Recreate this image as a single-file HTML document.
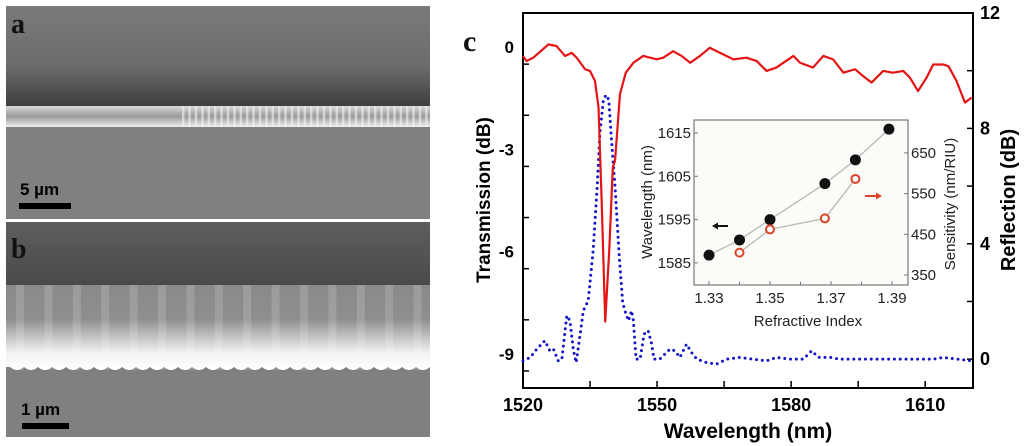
<!DOCTYPE html>
<html><head><meta charset="utf-8"><style>
html,body{margin:0;padding:0;background:#fff;}
body{width:1024px;height:446px;overflow:hidden;position:relative;font-family:"Liberation Sans",sans-serif;}
svg{position:absolute;left:0;top:0;}
</style></head><body>
<svg id="fig" width="1024" height="446" viewBox="0 0 1024 446">
<defs>
<linearGradient id="gaTop" x1="0" y1="0" x2="0" y2="1">
<stop offset="0" stop-color="#7a7a7a"/><stop offset="0.6" stop-color="#6c6c6c"/><stop offset="1" stop-color="#3e3e3e"/></linearGradient>
<linearGradient id="gaWg" x1="0" y1="0" x2="0" y2="1">
<stop offset="0" stop-color="#d8d8d8"/><stop offset="0.5" stop-color="#9a9a9a"/><stop offset="1" stop-color="#f0f0f0"/></linearGradient>
<linearGradient id="gbTop" x1="0" y1="0" x2="0" y2="1">
<stop offset="0" stop-color="#5e5e5e"/><stop offset="1" stop-color="#4a4a4a"/></linearGradient>
<linearGradient id="gbWg" x1="0" y1="0" x2="0" y2="1">
<stop offset="0" stop-color="#8a8a8a"/><stop offset="0.4" stop-color="#8e8e8e"/><stop offset="0.8" stop-color="#f2f2f2"/><stop offset="1" stop-color="#ffffff"/></linearGradient>
<pattern id="pa" x="182" y="0" width="6.4" height="10" patternUnits="userSpaceOnUse">
<rect x="0" y="0" width="2.4" height="10" fill="#f4f4f4"/></pattern>
<pattern id="pb" x="6" y="0" width="28.4" height="10" patternUnits="userSpaceOnUse">
<rect x="10" y="0" width="8" height="10" fill="#ffffff" opacity="0.15"/></pattern>
</defs>

<g>
<rect x="6" y="6" width="424" height="213" fill="#808080"/>
<rect x="6" y="6" width="424" height="100" fill="url(#gaTop)"/>
<rect x="6" y="106" width="424" height="21" fill="url(#gaWg)"/>
<rect x="182" y="106" width="248" height="21" fill="url(#pa)" opacity="0.6"/>
<text x="11" y="33" font-family="Liberation Serif,serif" font-weight="bold" font-size="28" fill="#111">a</text>
<text x="20" y="195" font-weight="bold" font-size="17" fill="#000">5 µm</text>
<rect x="19" y="203" width="52" height="6" fill="#000"/>
</g>
<g>
<rect x="6" y="222" width="424" height="215" fill="#808080"/>
<rect x="6" y="222" width="424" height="63" fill="url(#gbTop)"/>
<path d="M6 285 H430 V367 Q423 373 416 367 Q409 373 402 367 Q395 373 388 367 Q381 373 374 367 Q367 373 360 367 Q353 373 346 367 Q339 373 332 367 Q325 373 318 367 Q311 373 304 367 Q297 373 290 367 Q283 373 276 367 Q269 373 262 367 Q255 373 248 367 Q241 373 234 367 Q227 373 220 367 Q213 373 206 367 Q199 373 192 367 Q185 373 178 367 Q171 373 164 367 Q157 373 150 367 Q143 373 136 367 Q129 373 122 367 Q115 373 108 367 Q101 373 94 367 Q87 373 80 367 Q73 373 66 367 Q59 373 52 367 Q45 373 38 367 Q31 373 24 367 Q17 373 10 367 L6 367 Z" fill="url(#gbWg)"/>
<rect x="6" y="285" width="424" height="85" fill="url(#pb)"/>
<text x="11" y="258" font-family="Liberation Serif,serif" font-weight="bold" font-size="28" fill="#111">b</text>
<text x="21" y="415" font-weight="bold" font-size="17" fill="#000">1 µm</text>
<rect x="22" y="423" width="47" height="6" fill="#000"/>
</g>
<rect x="6" y="219" width="424" height="3" fill="#fff"/>

<text x="463" y="51" font-family="Liberation Serif,serif" font-weight="bold" font-size="30" fill="#111">c</text>

<g id="chart"></g>
</svg>
<script>
const redWl = [1520.0,1520.8,1522.3,1525.7,1527.5,1529.4,1530.9,1532.0,1533.9,1535.0,1536.1,1536.9,1537.6,1538.4,1539.3,1540.1,1540.6,1541.7,1543.0,1544.7,1546.9,1549.9,1551.4,1553.6,1555.5,1557.4,1559.6,1561.8,1564.1,1567.1,1570.0,1572.3,1574.5,1576.7,1580.5,1582.0,1584.9,1587.2,1589.4,1591.7,1594.3,1596.1,1598.0,1600.6,1602.8,1605.1,1606.6,1608.4,1610.3,1611.8,1614.0,1615.2,1617.0,1618.9,1620.4];
const redDb = [-0.26,-0.41,-0.31,0.08,0.03,-0.26,-0.17,-0.31,-0.65,-0.70,-0.99,-1.77,-4.50,-8.05,-5.96,-3.52,-3.33,-1.38,-0.75,-0.46,-0.26,-0.36,-0.31,-0.12,-0.26,-0.46,-0.26,-0.02,-0.17,-0.36,-0.31,-0.41,-0.70,-0.60,-0.26,-0.46,-0.60,-0.26,-0.36,-0.75,-0.65,-0.85,-1.04,-0.70,-0.75,-0.70,-0.90,-1.29,-0.90,-0.51,-0.51,-0.56,-0.99,-1.63,-1.48];
const blueWl = [1520.0,1521.6,1523.1,1524.9,1526.0,1526.8,1527.9,1528.7,1529.8,1530.5,1531.3,1531.9,1532.8,1533.5,1534.6,1535.7,1536.6,1537.2,1538.0,1538.6,1539.2,1539.8,1540.6,1541.5,1542.3,1542.8,1543.6,1544.3,1544.7,1545.3,1546.2,1547.1,1548.0,1548.8,1549.3,1550.6,1552.9,1554.0,1555.1,1556.6,1557.7,1558.9,1561.1,1563.3,1565.6,1568.5,1571.5,1574.5,1576.7,1579.7,1582.7,1584.6,1586.1,1588.7,1590.9,1596.9,1604.3,1611.8,1614.0,1620.4];
const blueDb = [-0.06,0.06,0.35,0.64,0.29,0.35,-0.06,0.0,1.51,1.33,0.29,-0.12,0.87,1.68,2.03,3.77,5.97,7.83,8.99,9.16,8.99,7.60,5.97,3.65,1.97,1.68,1.33,1.68,1.33,0.0,0.0,0.87,0.99,0.52,0.0,0.0,0.35,0.29,0.06,0.52,0.23,0.0,-0.12,-0.17,0.0,0.06,0.0,-0.06,0.06,0.0,0.0,0.29,0.06,0.06,0.0,0.0,0.0,0.0,0.06,-0.06];
const xTicks = [1520,1550,1580,1610];
const yLeftTicks = [0,-3,-6,-9];
const yRightTicks = [0,4,8,12];
const insetN = [1.33,1.34,1.35,1.368,1.378,1.389];
const insetWl = [1586.8,1590.3,1595.0,1603.3,1608.8,1615.9];
const sensN = [1.34,1.35,1.368,1.378];
const sensVal = [405,462,489,586];
const insetXTicks = [1.33,1.35,1.37,1.39];
const insetYTicks = [1585,1595,1605,1615];
const insetY2Ticks = [350,450,550,650];

const NS='http://www.w3.org/2000/svg';
const g=document.getElementById('chart');
function el(t,a,p){const e=document.createElementNS(NS,t);for(const k in a)e.setAttribute(k,a[k]);(p||g).appendChild(e);return e;}
const L=523,R=973,T=13,B=388;
const x=w=>L+(w-1520)*(R-L)/100.7;
const yl=d=>T+(1-d)*(B-T)/11;
const yr=d=>T+(12-d)*(B-T)/13;
let f=el('rect',{x:L,y:T,width:R-L,height:B-T,fill:'none',stroke:'#000','stroke-width':2});


for(let w=1520;w<=1620;w+=15){el('line',{x1:x(w),y1:B,x2:x(w),y2:B-7,stroke:'#000','stroke-width':1.5});}
xTicks.forEach(w=>{const t=el('text',{x:x(w),y:411,'text-anchor':'middle','font-size':18,'font-weight':'bold'});t.textContent=w;

});
for(let d=1;d>=-10;d-=1.5){el('line',{x1:L,y1:yl(d),x2:L+6,y2:yl(d),stroke:'#000','stroke-width':1.5});}
yLeftTicks.forEach(d=>{const t=el('text',{x:514,y:yl(d)+6,'text-anchor':'end','font-size':17,'font-weight':'bold'});t.textContent=d;

});
for(let d=0;d<=12;d+=2){el('line',{x1:R,y1:yr(d),x2:R-6,y2:yr(d),stroke:'#000','stroke-width':1.5});}
yRightTicks.forEach(d=>{const t=el('text',{x:980,y:yr(d)+6,'font-size':18,'font-weight':'bold'});t.textContent=d;

});
let t=el('text',{x:748,y:438,'text-anchor':'middle','font-size':21,'font-weight':'bold'});t.textContent='Wavelength (nm)';


t=el('text',{x:0,y:0,'text-anchor':'middle','font-size':19,'font-weight':'bold',transform:'translate(490,200) rotate(-90)'});t.textContent='Transmission (dB)';


t=el('text',{x:0,y:0,'text-anchor':'middle','font-size':20,'font-weight':'bold',transform:'translate(1015,200) rotate(-90)'});t.textContent='Reflection (dB)';


let p=el('polyline',{points:blueWl.map((w,i)=>x(w)+','+yr(blueDb[i])).join(' '),fill:'none',stroke:'#1414c8','stroke-width':3,'stroke-linecap':'round','stroke-dasharray':'0 5.8'});


p=el('polyline',{points:redWl.map((w,i)=>x(w)+','+yl(redDb[i])).join(' '),fill:'none',stroke:'#e41414','stroke-width':2.2,'stroke-linejoin':'round'});


const IL=694,IR=908,IT=120,IB=285;
const ix=n=>709+(n-1.33)*(892-709)/0.06;
const iy=w=>133+(1615-w)*4.33;
const iy2=s=>275-(s-350)*0.407;
const ig=el('g',{});


el('rect',{x:IL,y:IT,width:IR-IL,height:IB-IT,fill:'#fbfbf8',stroke:'#777','stroke-width':1.2},ig);
insetXTicks.forEach(n=>{el('line',{x1:ix(n),y1:IB,x2:ix(n),y2:IB-4,stroke:'#777'},ig);const a=el('text',{x:ix(n),y:IB+18,'text-anchor':'middle','font-size':15,fill:'#222'},ig);a.textContent=n.toFixed(2);

});
[1.34,1.36,1.38].forEach(n=>el('line',{x1:ix(n),y1:IB,x2:ix(n),y2:IB-3,stroke:'#777'},ig));
insetYTicks.forEach(w=>{el('line',{x1:IL,y1:iy(w),x2:IL+4,y2:iy(w),stroke:'#777'},ig);const a=el('text',{x:IL-3,y:iy(w)+5,'text-anchor':'end','font-size':15,fill:'#222'},ig);a.textContent=w;

});
insetY2Ticks.forEach(s=>{el('line',{x1:IR,y1:iy2(s),x2:IR-4,y2:iy2(s),stroke:'#777'},ig);const a=el('text',{x:IR+3,y:iy2(s)+5,'font-size':15,fill:'#222'},ig);a.textContent=s;

});
t=el('text',{x:808,y:326,'text-anchor':'middle','font-size':15,fill:'#222'},ig);t.textContent='Refractive Index';


t=el('text',{x:0,y:0,'text-anchor':'middle','font-size':15,fill:'#222',transform:'translate(652,202) rotate(-90)'},ig);t.textContent='Wavelength (nm)';


t=el('text',{x:0,y:0,'text-anchor':'middle','font-size':15,fill:'#222',transform:'translate(955,204) rotate(-90)'},ig);t.textContent='Sensitivity (nm/RIU)';


el('polyline',{points:insetN.map((n,i)=>ix(n)+','+iy(insetWl[i])).join(' '),fill:'none',stroke:'#b8b8b8','stroke-width':1.3},ig);
el('polyline',{points:sensN.map((n,i)=>ix(n)+','+iy2(sensVal[i])).join(' '),fill:'none',stroke:'#b8b8b8','stroke-width':1.3},ig);
insetN.forEach((n,i)=>{const c=el('circle',{cx:ix(n),cy:iy(insetWl[i]),r:5.5,fill:'#111'},ig);

});
sensN.forEach((n,i)=>{const c=el('circle',{cx:ix(n),cy:iy2(sensVal[i]),r:4,fill:'#fff',stroke:'#d9442a','stroke-width':2},ig);

});
let ar=el('g',{},ig);


el('line',{x1:728,y1:226,x2:716,y2:226,stroke:'#111','stroke-width':2},ar);
el('polygon',{points:'712,226 718,222.5 718,229.5',fill:'#111'},ar);
ar=el('g',{},ig);


el('line',{x1:865,y1:196,x2:877,y2:196,stroke:'#d9442a','stroke-width':2},ar);
el('polygon',{points:'882,196 876,192.5 876,199.5',fill:'#d9442a'},ar);
</script>
</body></html>
